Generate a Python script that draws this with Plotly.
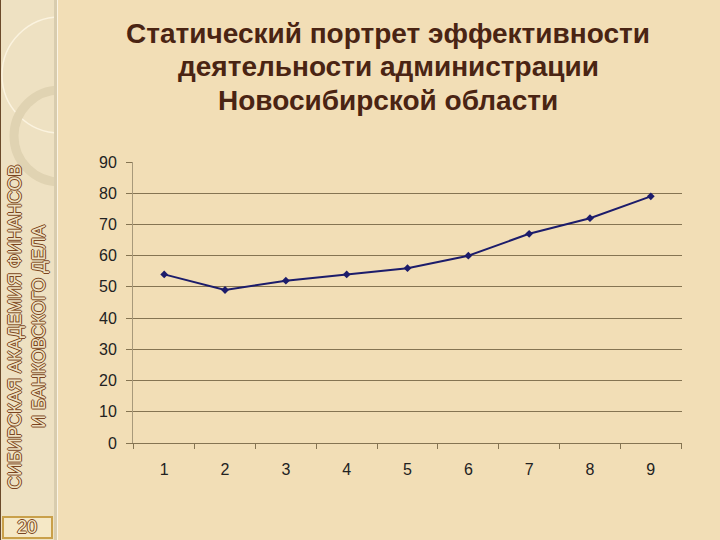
import plotly.graph_objects as go

# значения показателя по годам (1..9)
periods = ["1", "2", "3", "4", "5", "6", "7", "8", "9"]
values = [54, 49, 52, 54, 56, 60, 67, 72, 79]
y_ticks = [0, 10, 20, 30, 40, 50, 60, 70, 80, 90]

title_lines = ["Статический портрет эффективности",
               "деятельности администрации",
               "Новосибирской области"]
side_lines = ["СИБИРСКАЯ АКАДЕМИЯ ФИНАНСОВ", "И БАНКОВСКОГО ДЕЛА"]
page_no = "20"

bg = "#F2DEB6"
side_bg = "#EEE1C2"
grid = "#857452"
outline = "1px 0 0 #7A4420, -1px 0 0 #7A4420, 0 1px 0 #7A4420, 0 -1px 0 #7A4420"

# plot area in pixels
L, R, T, B = 133, 682, 162, 443


def px(x):
    return (x - L) / (R - L)


def py(y):
    return (B - y) / (B - T)


fig = go.Figure()
fig.add_trace(go.Scatter(x=periods, y=values, mode="lines+markers",
                         line=dict(color="#1C1C6B", width=2),
                         marker=dict(symbol="diamond", size=6, color="#1C1C6B"),
                         showlegend=False))

px_shapes = [
    dict(x0=0, x1=54, y0=0, y1=540, fillcolor=side_bg, line_width=0),
    dict(type="circle", x0=2, x1=118, y0=17, y1=133, line=dict(color="#FBF3DF", width=1.5)),
    dict(type="circle", x0=14, x1=106, y0=90, y1=182, line=dict(color="#E0D3B2", width=9)),
    dict(x0=54, x1=57, y0=0, y1=540, fillcolor="#D8CCAE", line_width=0),
    dict(x0=57, x1=125, y0=0, y1=540, fillcolor=bg, line_width=0),
    dict(x0=57, x1=58, y0=0, y1=540, fillcolor="#FBF4E4", line_width=0),
    dict(x0=0, x1=1, y0=0, y1=540, fillcolor="#6B4A2A", line_width=0),
    dict(x0=3, x1=52, y0=517, y1=538, fillcolor="#F5E8C6", line=dict(color="#C9A04A", width=2)),
]
for s in px_shapes:
    d = dict(type="rect", xref="paper", yref="paper", layer="below")
    d.update(s)
    d["x0"] = px(s["x0"])
    d["x1"] = px(s["x1"])
    d["y0"] = py(s["y1"])
    d["y1"] = py(s["y0"])
    fig.add_shape(**d)

ann = []
for i, t in enumerate(title_lines):
    ann.append(dict(text="<b>" + t + "</b>", x=px(388), y=py(33 + i * 33.5),
                    xref="paper", yref="paper", showarrow=False,
                    xanchor="center", yanchor="middle",
                    font=dict(family="Liberation Sans, Arial", size=28, color="#4A2413")))
for i, t in enumerate(side_lines):
    ann.append(dict(text=t, x=px(15 + i * 24), y=py(327),
                    xref="paper", yref="paper", showarrow=False, textangle=-90,
                    xanchor="center", yanchor="middle",
                    font=dict(family="Liberation Sans, Arial", size=18, color=side_bg,
                              shadow=outline)))
ann.append(dict(text=page_no, x=px(27), y=py(527), xref="paper", yref="paper",
                showarrow=False, xanchor="center", yanchor="middle",
                font=dict(family="Liberation Sans, Arial", size=18, color="#F5E8C6",
                          shadow=outline)))

fig.update_layout(
    width=720, height=540,
    margin=dict(l=L, r=720 - R, t=T, b=540 - B),
    paper_bgcolor=bg, plot_bgcolor="rgba(0,0,0,0)",
    annotations=ann,
    xaxis=dict(type="category", tickson="boundaries", ticks="outside", ticklen=5,
               tickcolor=grid, showgrid=False, showline=True, linecolor=grid,
               tickfont=dict(family="Liberation Sans, Arial", size=16, color="#222"),
               ticklabelstandoff=12),
    yaxis=dict(range=[0, 90], tickvals=y_ticks, ticks="outside", ticklen=6,
               tickcolor=grid, showgrid=True, gridcolor=grid, gridwidth=1,
               showline=True, linecolor="#A8997A", zeroline=False,
               tickfont=dict(family="Liberation Sans, Arial", size=16, color="#222"),
               ticklabelstandoff=6),
)

fig.write_html("out.html", config={"displayModeBar": False},
               post_script="document.body.style.margin='0';")
